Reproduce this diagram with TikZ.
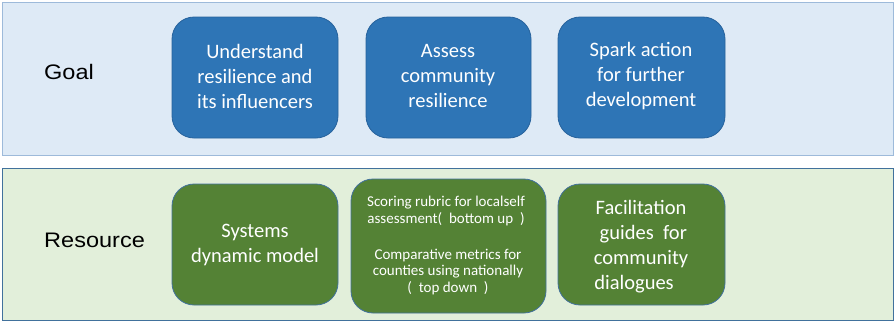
\documentclass[tikz,border=0pt]{standalone}
\usepackage{fontspec}
\setmainfont{Carlito}
\newfontfamily\arialf[FakeStretch=1.12]{Liberation Sans}
\definecolor{bandblue}{RGB}{222,234,246}
\definecolor{bandblueline}{RGB}{157,186,218}
\definecolor{bandgreen}{RGB}{226,239,218}
\definecolor{bandgreenline}{RGB}{65,113,156}
\definecolor{boxblue}{RGB}{46,117,182}
\definecolor{boxblueline}{RGB}{38,98,156}
\definecolor{boxgreen}{RGB}{84,130,53}
\definecolor{boxgreenline}{RGB}{65,113,156}
\begin{document}
\begin{tikzpicture}[x=1pt,y=-1pt,
  goalbox/.style={fill=boxblue, draw=boxblueline, line width=0.8pt, rounded corners=22pt},
  resbox/.style={fill=boxgreen, draw=boxgreenline, line width=0.8pt, rounded corners=22pt},
  boxtext/.style={text=white, align=center, font=\fontsize{20.5}{25}\selectfont},
  smalltext/.style={text=white, align=center, font=\fontsize{15}{16.5}\selectfont},
  rowlabel/.style={anchor=base west, inner sep=0pt, font=\arialf\fontsize{21}{24}\selectfont}]
\useasboundingbox (0,0) rectangle (894,322);
\fill[bandblue, draw=bandblueline, line width=0.8pt] (2,2) rectangle (893,155);
\fill[bandgreen, draw=bandgreenline, line width=0.8pt] (2,168) rectangle (893,320);
\node[rowlabel] (goal) at (44,79) {Goal};
\node[rowlabel] (resource) at (44,247) {Resource};
% goal boxes
\draw[goalbox] (172,17) rectangle (338,138);
\node[boxtext] (g1) at (255,76) {Understand\\resilience and\\its influencers};
\draw[goalbox] (366,17) rectangle (531,138);
\node[boxtext] (g2) at (448,76) {Assess\\community\\resilience};
\draw[goalbox] (558,17) rectangle (725,138);
\node[boxtext] (g3) at (641,76) {Spark action\\for further\\development};
% resource boxes
\draw[resbox] (172,184) rectangle (338,305);
\node[boxtext] (r1) at (255,245) {Systems\\dynamic model};
\draw[resbox] (351,179) rectangle (546,313);
\node[smalltext] (r2a) at (446,211) {Scoring rubric for localself\\assessment(\ \ bottom up\ \ )};
\node[smalltext] (r2b) at (448,272) {Comparative metrics for\\counties using nationally\\(\ \ top down\ \ )};
\draw[resbox] (558,184) rectangle (725,305);
\node[boxtext] (r3) at (641,247) {Facilitation\\\ guides\ \ for\\community\\dialogues\ \ \ \ };
\end{tikzpicture}
\end{document}
